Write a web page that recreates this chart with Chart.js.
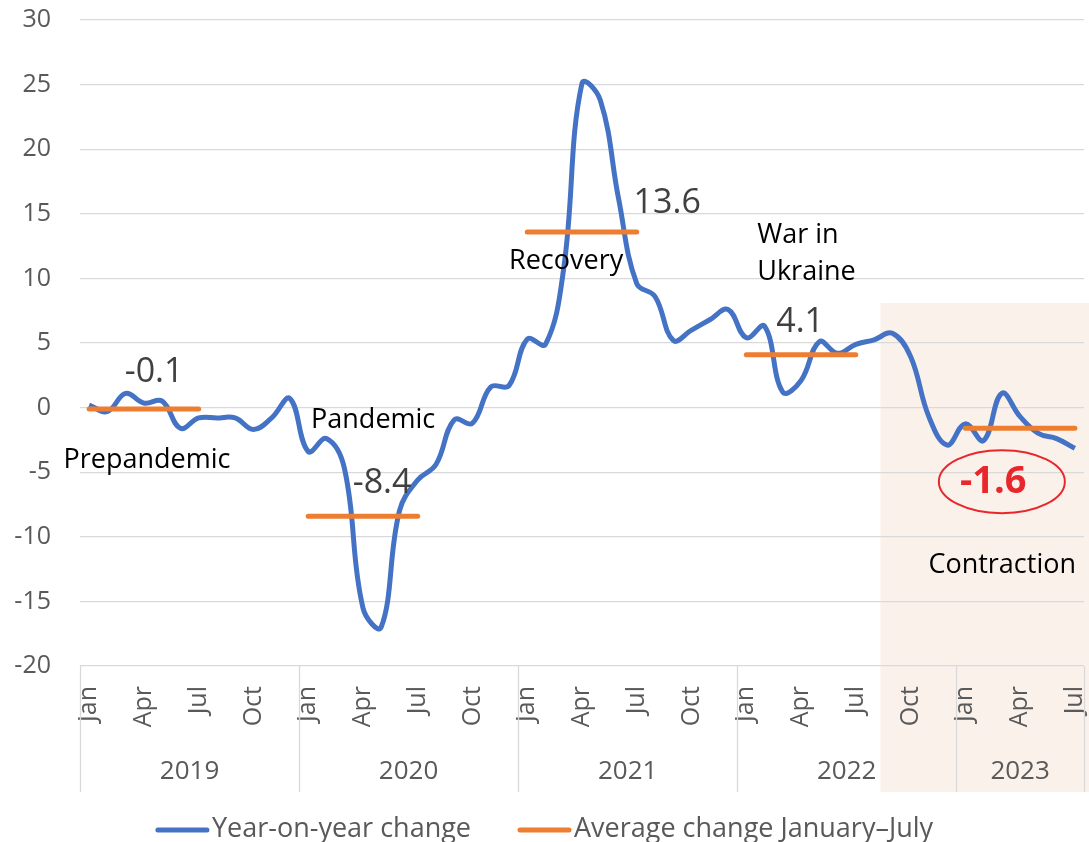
<!DOCTYPE html>
<html>
<head>
<meta charset="utf-8">
<script src="https://cdn.jsdelivr.net/npm/chart.js@4"></script>
<style>
html,body{margin:0;padding:0;background:#fff;}
#wrap{width:1089px;height:842px;position:relative;}
</style>
</head>
<body>
<div id="wrap"><canvas id="c"></canvas></div>
<script>
// ---------- data ----------
const monthNames = ['Jan','Feb','Mar','Apr','May','Jun','Jul','Aug','Sep','Oct','Nov','Dec'];
const years = ['2019','2020','2021','2022','2023'];
const monthsPerYear = [12, 12, 12, 12, 7];
const shownMonths = ['Jan','Apr','Jul','Oct'];
const yoyChange = [
  // 2019
  0.2, -0.3, 1.1, 0.35, 0.5, -1.6, -0.8, -0.8, -0.8, -1.7, -0.8, 0.7,
  // 2020
  -3.4, -2.4, -4.8, -15.5, -17.0, -8.0, -5.6, -4.4, -0.95, -1.2, 1.6, 1.7,
  // 2021
  5.3, 4.9, 10.8, 25.1, 23.8, 16.2, 9.6, 8.6, 5.2, 6.0, 6.8, 7.6,
  // 2022
  5.4, 6.3, 1.2, 2.1, 5.1, 4.2, 4.9, 5.25, 5.75, 3.95, -0.7, -2.9,
  // 2023
  -1.26, -2.55, 1.1, -0.7, -2.0, -2.4, -3.15
];
const avgJanJul = [-0.1, -8.4, 13.6, 4.1, -1.6];
const seriesNames = ['Year-on-year change', 'Average change January\u2013July'];
const phaseNotes = ['Prepandemic', 'Pandemic', 'Recovery', 'War in', 'Ukraine', 'Contraction'];

// ---------- derived ----------
const categories = [];
years.forEach((yr, k) => {
  for (let m = 0; m < monthsPerYear[k]; m++) categories.push(monthNames[m]);
});
const avgSeries = [];
years.forEach((yr, k) => {
  for (let m = 0; m < monthsPerYear[k]; m++) avgSeries.push(m < 7 ? avgJanJul[k] : null);
});

// ---------- styling / placement ----------
const FONT = '"Open Sans", "Noto Sans", sans-serif';
const BLUE = '#4472C4', ORANGE = '#ED7D31', GRID = '#D9D9D9', AXIS_TXT = '#595959';
const notes = [
  {text: String(avgJanJul[0]), xi: 3.56,  yv: 1.99,  size: 34, color: '#404040'},
  {text: phaseNotes[0],        xi: 3.17,  yv: -4.67, size: 27, color: '#000'},
  {text: phaseNotes[1],        xi: 15.56, yv: -1.57, size: 27, color: '#000'},
  {text: String(avgJanJul[1]), xi: 16.05, yv: -6.63, size: 34, color: '#404040'},
  {text: phaseNotes[2],        xi: 26.13, yv: 10.74, size: 27, color: '#000'},
  {text: String(avgJanJul[2]), xi: 31.67, yv: 15.1,  size: 34, color: '#404040'},
  {text: phaseNotes[3],        xi: 36.6,  yv: 12.75, size: 27, color: '#000', align: 'left'},
  {text: phaseNotes[4],        xi: 36.6,  yv: 9.88,  size: 27, color: '#000', align: 'left'},
  {text: String(avgJanJul[3]), xi: 38.95, yv: 5.86,  size: 34, color: '#404040'},
  {text: phaseNotes[5],        xi: 50.02, yv: -12.8, size: 27, color: '#000'}
];
const highlight = {text: String(avgJanJul[4]), xi: 49.53, yv: -6.63, ex: 50.0, ey: -5.73, rx: 63, ry: 31.5};
const shade = {fromIdx: 43.35, topVal: 8.1};

const decor = {
  id: 'decor',
  beforeDraw(chart) {
    const {ctx} = chart;
    const x = chart.scales.x, y = chart.scales.y;
    ctx.save();
    ctx.fillStyle = '#FBF1EB';
    const sx = x.getPixelForValue(shade.fromIdx);
    const sy = y.getPixelForValue(shade.topVal);
    ctx.fillRect(sx, sy, chart.width - sx, x.bottom - sy);
    ctx.restore();
  },
  afterDraw(chart) {
    const {ctx} = chart;
    const x = chart.scales.x, y = chart.scales.y;
    ctx.save();
    // year separators & labels
    let start = 0;
    const bounds = [0];
    monthsPerYear.forEach(n => { start += n; bounds.push(start); });
    ctx.strokeStyle = GRID; ctx.lineWidth = 1.3;
    bounds.forEach(b => {
      const px = Math.round(x.getPixelForValue(b - 0.5)) + 0.5;
      ctx.beginPath(); ctx.moveTo(px, x.top); ctx.lineTo(px, x.bottom); ctx.stroke();
    });
    ctx.fillStyle = AXIS_TXT; ctx.font = '26px ' + FONT;
    ctx.textAlign = 'center'; ctx.textBaseline = 'middle';
    years.forEach((yr, k) => {
      const a = x.getPixelForValue(bounds[k] - 0.5), b = x.getPixelForValue(bounds[k + 1] - 0.5);
      ctx.fillText(yr, (a + b) / 2, x.bottom - 20);
    });
    // annotations
    ctx.textBaseline = 'alphabetic';
    notes.forEach(n => {
      ctx.font = n.size + 'px ' + FONT;
      ctx.fillStyle = n.color;
      ctx.textAlign = n.align || 'center';
      ctx.fillText(n.text, x.getPixelForValue(n.xi), y.getPixelForValue(n.yv));
    });
    // highlighted value with ellipse
    ctx.strokeStyle = '#E8262B'; ctx.lineWidth = 2;
    ctx.beginPath();
    ctx.ellipse(x.getPixelForValue(highlight.ex), y.getPixelForValue(highlight.ey), highlight.rx, highlight.ry, 0, 0, Math.PI * 2);
    ctx.stroke();
    ctx.fillStyle = '#E8262B'; ctx.font = 'bold 38px ' + FONT; ctx.textAlign = 'center';
    ctx.fillText(highlight.text, x.getPixelForValue(highlight.xi), y.getPixelForValue(highlight.yv));
    // legend
    ctx.font = '27px ' + FONT; ctx.textBaseline = 'middle'; ctx.textAlign = 'left';
    const sw = 53, gapT = 3, gapI = 47, ly = 830;
    const items = chart.data.datasets.map(d => ({label: d.label, color: d.borderColor, w: ctx.measureText(d.label).width}));
    const total = items.reduce((s, it) => s + sw + gapT + it.w, 0) + gapI * (items.length - 1);
    let lx = (chart.width - total) / 2;
    items.forEach(it => {
      ctx.strokeStyle = it.color; ctx.lineWidth = 5; ctx.lineCap = 'round';
      ctx.beginPath(); ctx.moveTo(lx + 2, ly); ctx.lineTo(lx + sw - 2, ly); ctx.stroke();
      ctx.fillStyle = AXIS_TXT;
      ctx.fillText(it.label, lx + sw + gapT, ly - 1);
      lx += sw + gapT + it.w + gapI;
    });
    ctx.restore();
  }
};

new Chart(document.getElementById('c'), {
  type: 'line',
  data: {
    labels: categories,
    datasets: [
      {label: seriesNames[0], data: yoyChange, borderColor: BLUE, backgroundColor: BLUE, borderWidth: 5,
       pointRadius: 0, tension: 0.4, fill: false, order: 2},
      {label: seriesNames[1], data: avgSeries, borderColor: ORANGE, backgroundColor: ORANGE, borderWidth: 5,
       pointRadius: 0, tension: 0, spanGaps: false, fill: false, borderCapStyle: 'round', order: 1}
    ]
  },
  options: {
    responsive: true,
    maintainAspectRatio: false,
    animation: false,
    events: [],
    layout: {padding: {top: 20, right: 5, left: 0, bottom: 50}},
    plugins: {legend: {display: false}, tooltip: {enabled: false}},
    scales: {
      x: {
        type: 'category',
        offset: true,
        grid: {display: false, drawTicks: false},
        border: {display: false},
        ticks: {
          autoSkip: false, maxRotation: 90, minRotation: 90, padding: 20,
          color: AXIS_TXT, font: {family: FONT, size: 25},
          callback: function (v, i) { const l = categories[i]; return shownMonths.includes(l) ? l : ''; }
        },
        afterFit(s) { s.height = 126; s.paddingLeft = 0; s.paddingRight = 0; }
      },
      y: {
        min: -20, max: 30,
        grid: {color: GRID, lineWidth: 1.3, drawTicks: false},
        border: {display: false},
        ticks: {stepSize: 5, padding: 29, color: AXIS_TXT, font: {family: FONT, size: 25}},
        afterFit(s) { s.width = 80; s.paddingTop = 0; s.paddingBottom = 0; }
      }
    }
  },
  plugins: [decor]
});
</script>
</body>
</html>
